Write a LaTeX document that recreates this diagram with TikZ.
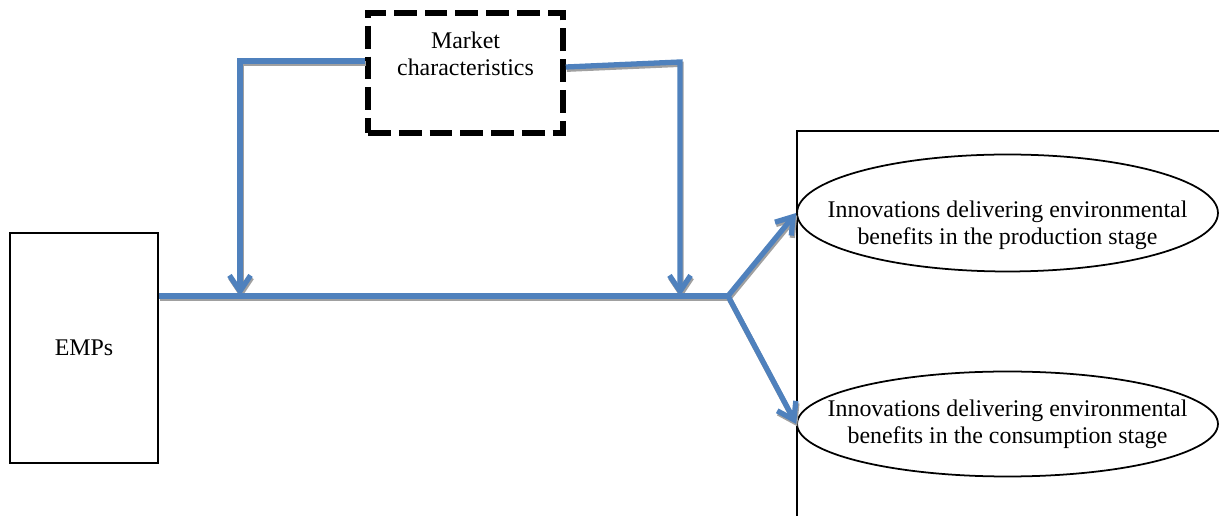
\documentclass[tikz,border=0pt]{standalone}
\usepackage{fontspec}
\setmainfont{Liberation Serif}
\usetikzlibrary{arrows.meta,shapes.geometric,calc}
\definecolor{flowblue}{HTML}{4F81BD}
\definecolor{shadowgray}{HTML}{A0A0A0}

\begin{document}
\begin{tikzpicture}[x=0.02cm,y=0.02cm,
	every node/.style={font=\fontsize{13.6}{15.3}\selectfont},
	firmbox/.style={draw,line width=1pt,minimum width=2.96cm,minimum height=4.6cm},
	marketbox/.style={draw,line width=3.2pt,dash pattern=on 13pt off 4.5pt,minimum width=3.9cm,minimum height=2.4cm,align=center},
	stage/.style={draw,ellipse,line width=1pt,inner sep=0pt,minimum width=8.42cm},
	flow/.style={draw=flowblue,line width=3pt},
	flowshade/.style={draw=shadowgray,line width=3pt,transform canvas={shift={(0.6pt,-1.3pt)}}},
	barb/.style={-{Straight Barb[length=9pt,width=12pt]}}]
			\useasboundingbox (0,0) rectangle (1219,516);
			
			\node[firmbox] (emps) at (84,168) {EMPs};
			\node[marketbox] (market) at (465.5,443) {Market\\characteristics\\[2pt]\strut};
			\node[stage,minimum height=2.34cm,label={[align=center,yshift=-0.24cm]center:Innovations delivering environmental\\benefits in the production stage}] (prod) at (1007.5,303) {};
			\node[stage,minimum height=2.1cm,label={[align=center]center:Innovations delivering environmental\\benefits in the consumption stage}] (cons) at (1007.5,92) {};
			\draw[line width=1pt] (797,0) -- (797,385) -- (1219,385);
			
			\coordinate (split) at (728,220);
			\coordinate (lk) at (240,455);
			\coordinate (rk) at (680,454);
			\foreach \look in {flowshade,flow}{
				\draw[\look] (emps.east |- split) -- (split);
				\draw[\look,barb] (market.west |- lk) -- (lk) -- (lk |- split);
				\draw[\look,barb] ($(market.east)+(0,6)$) -- (rk) -- (rk |- split);
				\draw[\look,barb] (split) -- (prod.west);
				\draw[\look,barb] (split) -- (cons.west);
			}
		\end{tikzpicture}
\end{document}
